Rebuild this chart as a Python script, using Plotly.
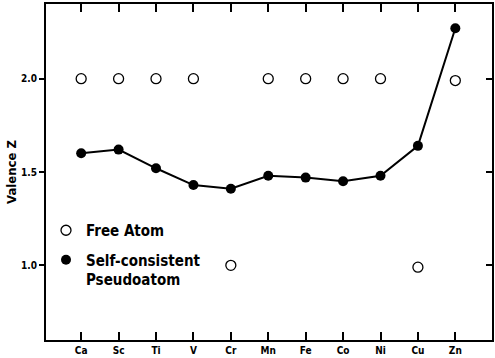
import plotly.graph_objects as go

# Transition-metal series along the 3d row
elements = ["Ca", "Sc", "Ti", "V", "Cr", "Mn", "Fe", "Co", "Ni", "Cu", "Zn"]

# Valence of the free atom
free_atom_z = [2.0, 2.0, 2.0, 2.0, 1.0, 2.0, 2.0, 2.0, 2.0, 0.99, 1.99]

# Valence of the self-consistent pseudoatom
pseudoatom_z = [1.60, 1.62, 1.52, 1.43, 1.41, 1.48, 1.47, 1.45, 1.48, 1.64, 2.27]

y_ticks = [1.0, 1.5, 2.0]

FONT = "DejaVu Sans Condensed, DejaVu Sans, sans-serif"
idx = list(range(len(elements)))

fig = go.Figure()

fig.add_trace(go.Scatter(
    x=idx, y=free_atom_z, mode="markers",
    marker=dict(symbol="circle-open", size=10, color="black", line=dict(width=1.3)),
    showlegend=False,
))
fig.add_trace(go.Scatter(
    x=idx, y=pseudoatom_z, mode="lines+markers",
    line=dict(color="black", width=2),
    marker=dict(symbol="circle", size=10, color="black"),
    showlegend=False,
))

# Legend entries (markers only)
fig.add_trace(go.Scatter(
    x=[None], y=[None], mode="markers", name="Free Atom", legendgroup="free",
    marker=dict(symbol="circle-open", size=10, color="black", line=dict(width=1.3)),
))
fig.add_trace(go.Scatter(
    x=[None], y=[None], mode="markers", name="Self-consistent<br>Pseudoatom",
    legendgroup="pseudo",
    marker=dict(symbol="circle", size=10, color="black"),
))

# Empty trace on the right-hand axis so its ticks are drawn
fig.add_trace(go.Scatter(x=[None], y=[None], yaxis="y2", showlegend=False,
                         hoverinfo="skip"))

fig.update_layout(
    width=495, height=358,
    margin=dict(l=46, r=1, t=4, b=18),
    paper_bgcolor="white", plot_bgcolor="white",
    font=dict(family=FONT, color="black"),
    showlegend=True,
    legend=dict(
        x=0.0, y=0.375, xanchor="left", yanchor="top",
        bgcolor="rgba(0,0,0,0)",
        font=dict(family=FONT, size=15, color="black", weight="bold"),
        itemwidth=30, valign="top", tracegroupgap=7,
    ),
    xaxis=dict(
        range=[-0.94, 10.98],
        tickmode="array", tickvals=idx, ticktext=elements,
        ticks="inside", ticklen=8, tickwidth=1.5, tickcolor="black",
        showline=True, linecolor="black", linewidth=2, mirror="ticks",
        showgrid=False, zeroline=False,
        tickfont=dict(family=FONT, size=10, weight="bold"),
    ),
    yaxis=dict(
        range=[0.60, 2.40],
        tickmode="array", tickvals=y_ticks,
        ticktext=[f"{v:.1f}" for v in y_ticks],
        ticks="outside", ticklen=5, tickwidth=1.5, tickcolor="black",
        showline=True, linecolor="black", linewidth=2, mirror=True,
        showgrid=False, zeroline=False,
        tickfont=dict(family=FONT, size=10, weight="bold"),
        title=dict(text="Valence Z", standoff=2,
                   font=dict(family=FONT, size=13, weight="bold")),
    ),
    yaxis2=dict(
        overlaying="y", side="right",
        range=[0.60, 2.40],
        tickmode="array", tickvals=y_ticks, showticklabels=False,
        ticks="inside", ticklen=6, tickwidth=1.5, tickcolor="black",
        showline=False, showgrid=False, zeroline=False,
    ),
)

fig.write_html("out.html")
